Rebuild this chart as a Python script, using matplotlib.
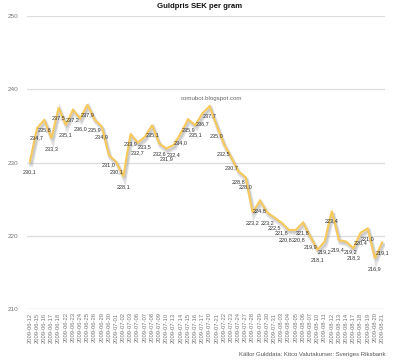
import matplotlib.pyplot as plt
import matplotlib.patheffects as pe

# --- data ---
dates = [
    "2009-06-12", "2009-06-15", "2009-06-16", "2009-06-17", "2009-06-18",
    "2009-06-22", "2009-06-23", "2009-06-24", "2009-06-25", "2009-06-26",
    "2009-06-29", "2009-06-30", "2009-07-01", "2009-07-02", "2009-07-03",
    "2009-07-06", "2009-07-07", "2009-07-08", "2009-07-09", "2009-07-10",
    "2009-07-13", "2009-07-14", "2009-07-15", "2009-07-16", "2009-07-17",
    "2009-07-20", "2009-07-21", "2009-07-22", "2009-07-23", "2009-07-24",
    "2009-07-27", "2009-07-28", "2009-07-29", "2009-07-30", "2009-07-31",
    "2009-08-03", "2009-08-04", "2009-08-05", "2009-08-06", "2009-08-07",
    "2009-08-10", "2009-08-11", "2009-08-12", "2009-08-13", "2009-08-14",
    "2009-08-17", "2009-08-18", "2009-08-19", "2009-08-20", "2009-08-21",
]
price = [
    230.1, 234.7, 235.8, 233.3, 237.5, 235.1, 237.2, 236.0, 237.9, 235.9,
    234.9, 231.0, 230.1, 228.1, 233.9, 232.7, 233.5, 235.1, 232.6, 231.9,
    232.4, 234.0, 235.9, 235.1, 236.7, 237.7, 235.0, 232.5, 230.7, 228.8,
    228.0, 223.2, 224.8, 223.2, 222.5, 221.8, 220.8, 220.8, 221.8, 219.9,
    218.1, 219.2, 223.4, 219.4, 219.2, 218.3, 220.4, 221.0, 216.9, 219.1,
]
yticks = [210, 220, 230, 240, 250]

plt.rcParams['font.family'] = ['Liberation Sans', 'DejaVu Sans']

fig = plt.figure(figsize=(4.0, 3.62), dpi=100)
ax = fig.add_axes([0.0675, 0.1464, 0.895, 0.8094])

x = list(range(len(price)))
ax.plot(x, price, color='#f7c95a', lw=1.5, solid_joinstyle='miter', zorder=3,
        path_effects=[pe.SimpleLineShadow(offset=(1, -2), shadow_color='#888888', alpha=0.25, linewidth=3.0),
                      pe.SimpleLineShadow(offset=(1, -1.5), shadow_color='#888888', alpha=0.25),
                      pe.Normal()])

# small sideways nudges where neighbouring labels would collide
nudge = {36: -3, 37: 3, 43: -1, 44: 4}
for xi, v in zip(x, price):
    ax.annotate(f"{v:.1f}".replace('.', ','), (xi, v), xytext=(nudge.get(xi, 0), -10),
                textcoords='offset pixels', ha='center', va='center',
                fontsize=4.0, color='#333333', zorder=4)

ax.set_ylim(210, 250)
ax.set_xlim(-0.4, 49.4)
ax.set_yticks(yticks)
ax.set_xticks(x)
ax.set_xticklabels(dates, rotation=90, fontsize=4.2, color='#777777')
ax.tick_params(axis='y', length=0, pad=6, labelsize=4.6, labelcolor='#777777')
ax.tick_params(axis='x', length=0, pad=2.5)
for t in yticks[1:]:
    ax.axhline(t, color='#dddddd', lw=0.9, zorder=1)
ax.axhline(210, color='#b5b5b5', lw=0.9, zorder=1)
for s in ax.spines.values():
    s.set_visible(False)

fig.text(0.5, 0.983, 'Guldpris SEK per gram', ha='center', va='center',
         fontsize=5.6, fontweight='bold', color='#111111')
fig.text(0.528, 0.729, 'comubot.blogspot.com', ha='center', va='center',
         fontsize=4.4, color='#666666')
fig.text(0.963, 0.02, 'Källor Gulddata: Kitco Valutakurser: Sveriges Riksbank',
         ha='right', va='center', fontsize=4.3, color='#555555')

fig.savefig('out.png', dpi=100)
